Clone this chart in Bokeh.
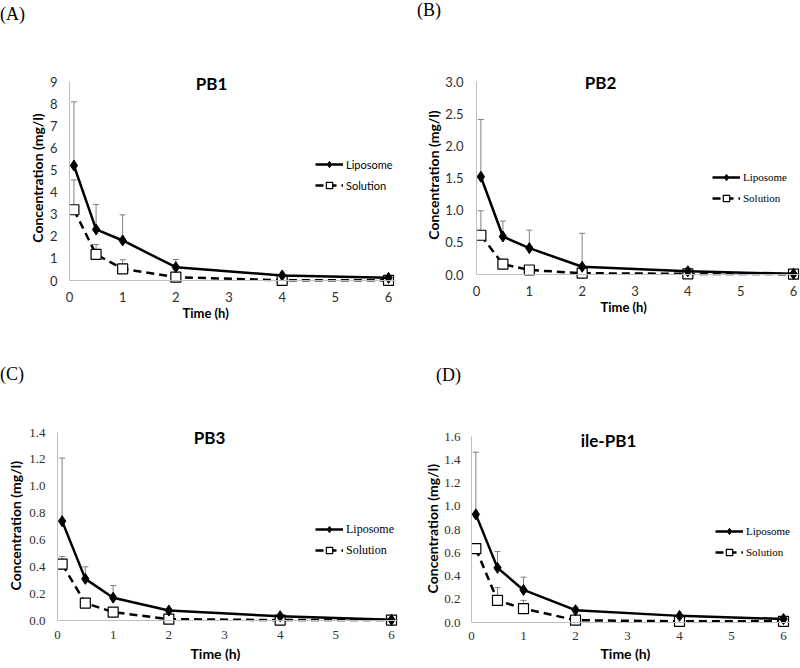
from bokeh.plotting import figure
from bokeh.models import (ColumnDataSource, Whisker, TeeHead, Label, Legend, LegendItem,
                          FixedTicker, Range1d, NumeralTickFormatter, Span, Title, Div)
from bokeh.layouts import column, row
from bokeh.embed import file_html
from bokeh.resources import INLINE

# ---------------- data ----------------
time_h = [0.083, 0.5, 1, 2, 4, 6]
x_ticks = [0, 1, 2, 3, 4, 5, 6]

pb1_liposome = [5.20, 2.31, 1.81, 0.60, 0.23, 0.12]
pb1_liposome_sd = [2.88, 1.13, 1.16, 0.35, 0.0, 0.0]
pb1_solution = [3.20, 1.18, 0.53, 0.15, 0.01, 0.01]
pb1_solution_sd = [1.35, 0.45, 0.41, 0.05, 0.0, 0.0]
pb1_yticks = [0, 1, 2, 3, 4, 5, 6, 7, 8, 9]

pb2_liposome = [1.52, 0.59, 0.41, 0.12, 0.05, 0.01]
pb2_liposome_sd = [0.89, 0.24, 0.28, 0.52, 0.05, 0.0]
pb2_solution = [0.61, 0.16, 0.07, 0.02, 0.01, 0.005]
pb2_solution_sd = [0.38, 0.06, 0.02, 0.0, 0.0, 0.0]
pb2_yticks = [0.0, 0.5, 1.0, 1.5, 2.0, 2.5, 3.0]

pb3_liposome = [0.74, 0.31, 0.17, 0.074, 0.032, 0.005]
pb3_liposome_sd = [0.47, 0.09, 0.09, 0.01, 0.005, 0.0]
pb3_solution = [0.42, 0.13, 0.062, 0.01, 0.003, 0.003]
pb3_solution_sd = [0.056, 0.01, 0.01, 0.0, 0.0, 0.0]
pb3_yticks = [0.0, 0.2, 0.4, 0.6, 0.8, 1.0, 1.2, 1.4]

ilepb1_liposome = [0.93, 0.47, 0.28, 0.106, 0.057, 0.03]
ilepb1_liposome_sd = [0.535, 0.14, 0.11, 0.024, 0.01, 0.0]
ilepb1_solution = [0.635, 0.19, 0.12, 0.02, 0.01, 0.01]
ilepb1_solution_sd = [0.0, 0.11, 0.07, 0.0, 0.0, 0.0]
ilepb1_yticks = [0.0, 0.2, 0.4, 0.6, 0.8, 1.0, 1.2, 1.4, 1.6]

series_labels = ["Liposome", "Solution"]

SANS = "Lato"
SERIF = "Liberation Serif"
AXIS_COLOR = "#bfbfbf"
ERR_COLOR = "#808080"
PAD = 7


def whisker(p, mean, sd):
    t = [ti for ti, s in zip(time_h, sd) if s > 0]
    lo = [m for m, s in zip(mean, sd) if s > 0]
    hi = [m + s for m, s in zip(mean, sd) if s > 0]
    src = ColumnDataSource(dict(t=t, lo=lo, hi=hi))
    w = Whisker(source=src, base="t", lower="lo", upper="hi", dimension="height",
                line_color=ERR_COLOR, line_width=1, level="underlay",
                lower_head=None,
                upper_head=TeeHead(size=6, line_color=ERR_COLOR, line_width=1))
    p.add_layout(w)


def make_panel(fig_x, fig_y, W, H, div_h, div_pad, x0, x6, y0, ytop, top_ext, ymax,
               yticks, yfmt, lipo, lipo_sd, sol, sol_sd, title, tag, tick_font,
               legend_font, legend_size, ylab, xstand, ystand, ylabstand, title_pos,
               time_left, time_stand, time_size, leg_pos):
    sx = (x6 - x0) / 6.0
    sy = (y0 - ytop) / ymax
    fy = fig_y + div_h

    def dx(px):
        return (px - x0) / sx

    def dy(py):
        return (y0 - py) / sy

    frame_top = ytop - top_ext
    p = figure(width=W, height=H - div_h, output_backend="svg", toolbar_location=None,
               x_range=Range1d(0, 6 + PAD / sx),
               y_range=Range1d(-PAD / sy, ymax + top_ext / sy),
               min_border_left=int(round(x0 - fig_x)),
               min_border_right=max(0, int(round(fig_x + W - (x6 + PAD)))),
               min_border_top=int(round(frame_top - fy)),
               min_border_bottom=int(round(fig_y + H - (y0 + PAD))))
    p.outline_line_color = None
    p.grid.visible = False
    p.background_fill_color = "white"
    p.border_fill_color = "white"

    xa = p.xaxis[0]
    xa.ticker = FixedTicker(ticks=x_ticks)
    xa.axis_line_color = None
    xa.major_tick_out = 0
    xa.major_tick_in = 0
    xa.minor_tick_line_color = None
    xa.major_label_standoff = xstand
    xa.major_label_text_font = tick_font
    xa.major_label_text_font_size = "13px"
    xa.major_label_text_color = "#303030"
    p.add_layout(Span(location=0, dimension="width", line_color=AXIS_COLOR, line_width=1))

    ya = p.yaxis[0]
    ya.bounds = (0, ymax)
    ya.ticker = FixedTicker(ticks=yticks)
    ya.formatter = NumeralTickFormatter(format=yfmt)
    ya.axis_line_color = AXIS_COLOR
    ya.axis_line_width = 1
    ya.major_tick_out = 0
    ya.major_tick_in = 0
    ya.minor_tick_line_color = None
    ya.major_label_standoff = ystand
    ya.major_label_text_font = tick_font
    ya.major_label_text_font_size = "13px"
    ya.major_label_text_color = "#303030"
    ya.axis_label = ylab
    ya.axis_label_text_font = SANS
    ya.axis_label_text_font_style = "bold"
    ya.axis_label_text_font_size = "14px"
    ya.axis_label_text_color = "black"
    ya.axis_label_standoff = ylabstand

    whisker(p, lipo, lipo_sd)
    whisker(p, sol, sol_sd)

    r2 = p.line(time_h, sol, line_color="black", line_width=2.5, line_dash="8 5")
    m2 = p.scatter(time_h, sol, marker="square", size=10, fill_color="white",
                   line_color="black", line_width=1.2)
    r1 = p.line(time_h, lipo, line_color="black", line_width=2.5)
    m1 = p.scatter(time_h, lipo, marker="diamond", size=11, fill_color="black",
                   line_color="black")

    leg = Legend(items=[LegendItem(label=series_labels[0], renderers=[r1, m1]),
                        LegendItem(label=series_labels[1], renderers=[r2, m2])],
                 location=leg_pos, orientation="vertical",
                 glyph_width=28, glyph_height=16, label_height=16, label_width=20,
                 spacing=5, padding=0, margin=0, label_standoff=3,
                 border_line_color=None, background_fill_alpha=0,
                 label_text_font=legend_font, label_text_font_size=legend_size,
                 label_text_color="black")
    p.add_layout(leg)

    p.add_layout(Label(x=dx(title_pos[0]), y=dy(title_pos[1]), text=title,
                       text_font=SANS, text_font_style="bold", text_font_size="17px",
                       text_align="center", text_baseline="middle", text_color="black"))
    p.add_layout(Title(text="Time (h)", align="left", offset=time_left - x0,
                       vertical_align="top", standoff=time_stand,
                       text_font=SANS, text_font_style="bold", text_font_size=time_size,
                       text_color="black"), "below")

    div = Div(text=('<div style="font-family:\'Liberation Serif\',serif;font-size:18px;'
                    'line-height:21px;color:black;padding:%dpx 0 0 %dpx;white-space:nowrap">%s</div>'
                    % (div_pad[1], div_pad[0], tag)),
              width=W, height=div_h, margin=0)
    return column(div, p, spacing=0)


pa = make_panel(0, 0, 400, 330, 28, (0, 4), 69, 388, 280, 81, 13, 9, pb1_yticks, "0",
                pb1_liposome, pb1_liposome_sd, pb1_solution, pb1_solution_sd,
                "PB1", "(A)", SANS, SANS, "11px", "Concentration (mg/l)",
                4, 12, 1, (211, 83), 182, 0, "13px", (246, 94))
pb = make_panel(400, 0, 400, 330, 28, (17, 0), 476, 793, 274, 81, 13, 3.0, pb2_yticks, "0.0",
                pb2_liposome, pb2_liposome_sd, pb2_solution, pb2_solution_sd,
                "PB2", "(B)", SANS, SERIF, "11px", "Concentration (mg/l)",
                4, 13, 0, (600, 82), 600, 0, "13px", (236, 75))
pc = make_panel(0, 330, 400, 338, 58, (0, 34), 57, 391, 620, 432, 12, 1.4, pb3_yticks, "0.0",
                pb3_liposome, pb3_liposome_sd, pb3_solution, pb3_solution_sd,
                "PB3", "(C)", SERIF, SERIF, "12px", "Concentration  (mg/l)",
                3, 12, 2, (209, 437), 190, 6, "14px", (258, 69))
pd_ = make_panel(400, 330, 400, 338, 58, (36, 35), 471, 783, 622, 436, 12, 1.6, ilepb1_yticks, "0.0",
                 ilepb1_liposome, ilepb1_liposome_sd, ilepb1_solution, ilepb1_solution_sd,
                 "ile-PB1", "(D)", SERIF, SERIF, "11px", "Concentration  (mg/l)",
                 2, 11, 0, (608, 440), 600, 4, "14px", (244, 69))

layout = column(row(pa, pb, spacing=0), row(pc, pd_, spacing=0), spacing=0)
open("out.html", "w").write(file_html(layout, INLINE))
